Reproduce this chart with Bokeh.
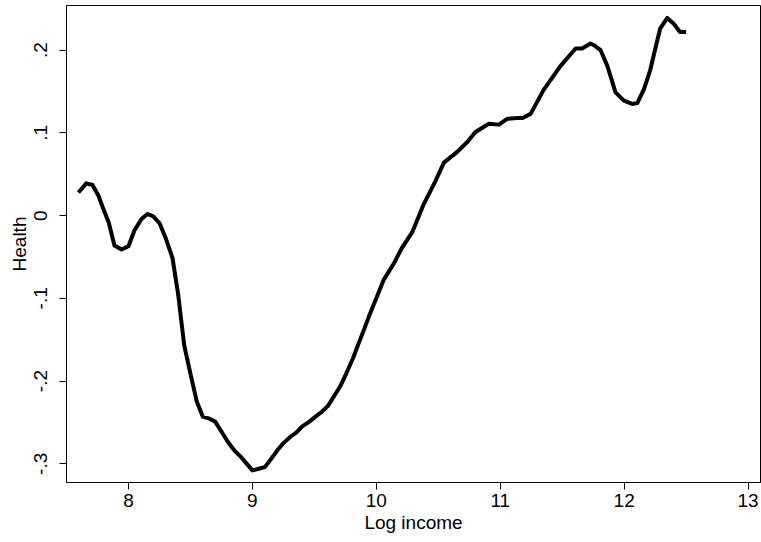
from bokeh.plotting import figure
from bokeh.models import FixedTicker, Range1d
from bokeh.embed import file_html
from bokeh.resources import INLINE

log_income = [7.596, 7.66, 7.71, 7.758, 7.80, 7.84, 7.887, 7.944, 8.0, 8.048, 8.105, 8.153, 8.2, 8.25,
              8.30, 8.355, 8.40, 8.45, 8.50, 8.55, 8.60, 8.646, 8.70, 8.75, 8.80, 8.855, 8.91, 8.96,
              9.0, 9.05, 9.10, 9.146, 9.20, 9.25, 9.31, 9.356, 9.40, 9.46, 9.51, 9.56, 9.61, 9.66,
              9.71, 9.76, 9.81, 9.856, 9.905, 9.953, 10.0, 10.058, 10.141, 10.203, 10.29, 10.383,
              10.478, 10.545, 10.653, 10.734, 10.80, 10.908, 10.989, 11.056, 11.137, 11.18, 11.245,
              11.35, 11.487, 11.608, 11.66, 11.729, 11.756, 11.81, 11.864, 11.93, 11.998, 12.065,
              12.106, 12.16, 12.21, 12.29, 12.348, 12.40, 12.45, 12.50]
health = [0.028, 0.039, 0.037, 0.024, 0.007, -0.008, -0.036, -0.041, -0.037, -0.018, -0.004, 0.002,
          -0.001, -0.009, -0.027, -0.051, -0.094, -0.157, -0.191, -0.224, -0.243, -0.245, -0.249,
          -0.261, -0.273, -0.284, -0.292, -0.301, -0.308, -0.306, -0.304, -0.295, -0.284, -0.275,
          -0.267, -0.262, -0.255, -0.249, -0.243, -0.237, -0.230, -0.218, -0.206, -0.190, -0.173,
          -0.155, -0.136, -0.117, -0.100, -0.078, -0.058, -0.040, -0.020, 0.014, 0.042, 0.064,
          0.077, 0.089, 0.101, 0.111, 0.110, 0.117, 0.118, 0.118, 0.123, 0.152, 0.181, 0.202,
          0.202, 0.208, 0.206, 0.200, 0.181, 0.149, 0.139, 0.135, 0.136, 0.153, 0.176, 0.226,
          0.239, 0.232, 0.222, 0.222]

x_ticks = [8, 9, 10, 11, 12, 13]
y_ticks = [-0.3, -0.2, -0.1, 0.0, 0.1, 0.2]
y_tick_labels = ["-.3", "-.2", "-.1", "0", ".1", ".2"]

FONT = "Liberation Sans"

p = figure(width=761, height=542, output_backend="svg", toolbar_location=None,
           x_range=Range1d(7.5, 13.1), y_range=Range1d(-0.3226, 0.254),
           min_border_left=66, min_border_right=1, min_border_top=5, min_border_bottom=60)

p.line(log_income, health, line_width=4, line_color="black", line_join="round")

p.xgrid.visible = False
p.ygrid.visible = False
p.outline_line_color = "black"
p.outline_line_width = 1
p.background_fill_color = "white"
p.border_fill_color = "white"

p.xaxis.ticker = FixedTicker(ticks=x_ticks)
p.yaxis.ticker = FixedTicker(ticks=y_ticks)
p.yaxis.major_label_overrides = {t: l for t, l in zip(y_ticks, y_tick_labels)}
p.yaxis.major_label_orientation = "vertical"

p.xaxis.axis_label = "Log income"
p.yaxis.axis_label = "Health"

for ax in (p.xaxis[0], p.yaxis[0]):
    ax.axis_line_color = "black"
    ax.axis_line_width = 1
    ax.major_tick_line_color = "black"
    ax.major_tick_out = 7
    ax.major_tick_in = 0
    ax.minor_tick_line_color = None
    ax.major_label_text_font = FONT
    ax.major_label_text_font_size = "19px"
    ax.major_label_text_color = "black"
    ax.axis_label_text_font = FONT
    ax.axis_label_text_font_size = "19px"
    ax.axis_label_text_font_style = "normal"
    ax.axis_label_text_color = "black"

p.xaxis.major_label_standoff = 4
p.xaxis.axis_label_standoff = 2
p.yaxis.major_label_standoff = 12
p.yaxis.axis_label_standoff = 2

open("out.html", "w").write(file_html(p, INLINE))
